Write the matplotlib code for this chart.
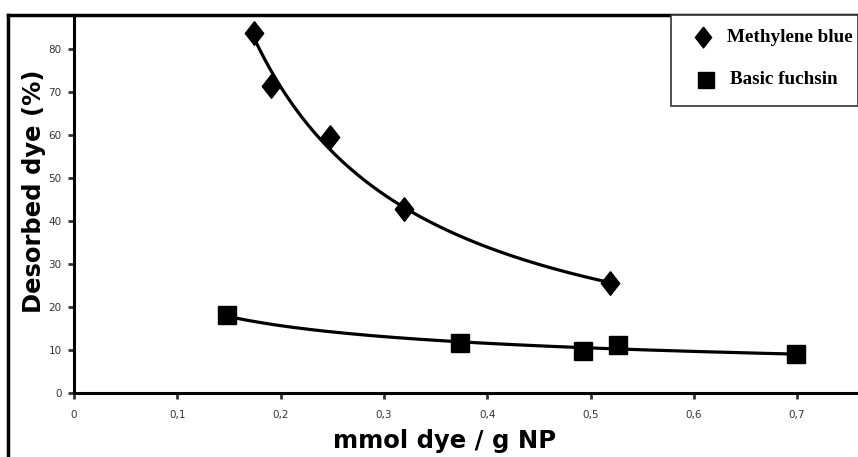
import numpy as np
import matplotlib.pyplot as plt
from matplotlib.lines import Line2D

# datos
mb_x = [0.174, 0.191, 0.248, 0.319, 0.519]
mb_y = [83.7, 71.5, 59.5, 42.8, 25.5]

bf_x = [0.148, 0.374, 0.493, 0.527, 0.699]
bf_y = [18.1, 11.6, 9.7, 11.2, 9.1]

xticks = [0, 0.1, 0.2, 0.3, 0.4, 0.5, 0.6, 0.7]
xticklabels = ['0', '0,1', '0,2', '0,3', '0,4', '0,5', '0,6', '0,7']
yticks = [0, 10, 20, 30, 40, 50, 60, 70, 80]

fig = plt.figure(figsize=(8.58, 4.57), dpi=100)
ax = fig.add_axes([74/858, 64/457, (858-74)/858, (393-15)/457])

# marcador de rombo alargado
rombo = [(0, 1), (0.78, 0), (0, -1), (-0.78, 0), (0, 1)]

def ajuste_potencia(xs, ys, x0, x1):
    # linea de tendencia potencial y = a*x^b
    b, loga = np.polyfit(np.log(xs), np.log(ys), 1)
    xx = np.linspace(x0, x1, 200)
    return xx, np.exp(loga) * xx**b

xx, yy = ajuste_potencia(mb_x, mb_y, mb_x[0], mb_x[-1])
ax.plot(xx, yy, color='black', lw=2.3, zorder=2)
xx, yy = ajuste_potencia(bf_x, bf_y, bf_x[0], bf_x[-1])
ax.plot(xx, yy, color='black', lw=2.3, zorder=2)

ax.plot(mb_x, mb_y, ls='none', marker=rombo, ms=17, color='black', zorder=3)
ax.plot(bf_x, bf_y, ls='none', marker='s', ms=13, color='black', zorder=3)

ax.set_xlim(0, (858-74)/1033.0)
ax.set_ylim(0, (393-15)/4.3)
ax.set_xticks(xticks)
ax.set_xticklabels(xticklabels)
ax.set_yticks(yticks)
ax.tick_params(labelsize=7.5, colors='#333333', width=2, length=4, pad=8)
ax.tick_params(axis='y', pad=5)

for s in ['top', 'right']:
    ax.spines[s].set_visible(False)
for s in ['left', 'bottom']:
    ax.spines[s].set_linewidth(2.2)

ax.set_xlabel('mmol dye / g NP', fontsize=17.5, fontweight='bold')
ax.xaxis.set_label_coords((445-74)/784, -0.095)
ax.set_ylabel('Desorbed dye (%)', fontsize=17.5, fontweight='bold')
ax.yaxis.set_label_coords(-0.036, 0.535)

# marco exterior
fig.add_artist(Line2D([8/858, 1], [1-15/457, 1-15/457], transform=fig.transFigure, color='black', lw=2.5))
fig.add_artist(Line2D([8/858, 8/858], [0, 1-15/457], transform=fig.transFigure, color='black', lw=2.5))

# leyenda manual en caja
caja = plt.Rectangle((671/858, 1-106/457), (858-671)/858, (106-15)/457, transform=fig.transFigure,
                     facecolor='white', edgecolor='#333333', lw=1.2, zorder=5)
fig.add_artist(caja)
fig.add_artist(Line2D([703/858], [1-37/457], transform=fig.transFigure, marker=rombo, ms=15,
                      color='black', ls='none', zorder=6))
fig.add_artist(Line2D([706/858], [1-80/457], transform=fig.transFigure, marker='s', ms=11.5,
                      color='black', ls='none', zorder=6))
fig.text(727/858, 1-37/457, 'Methylene blue', family='Liberation Serif', fontweight='bold',
         fontsize=13.8, va='center', ha='left', zorder=7)
fig.text(730/858, 1-80/457, 'Basic fuchsin', family='Liberation Serif', fontweight='bold',
         fontsize=13.8, va='center', ha='left', zorder=7)

fig.savefig('out.png', dpi=100)
